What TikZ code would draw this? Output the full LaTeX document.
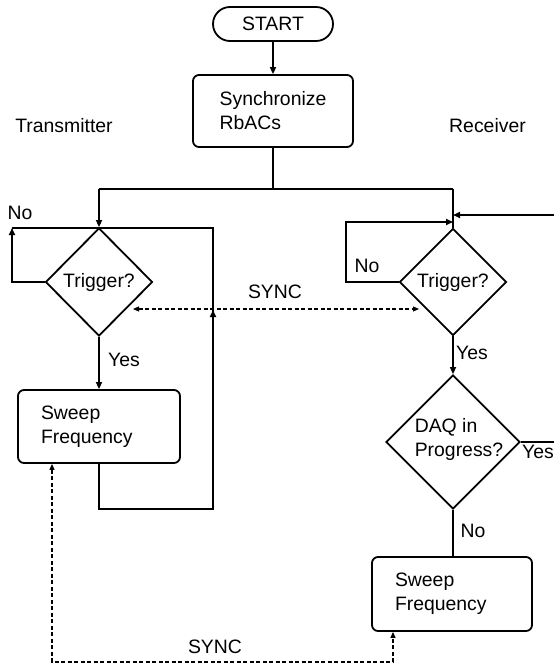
\documentclass[tikz,border=0pt]{standalone}
\usepackage{fontspec}
\setmainfont{Liberation Sans}
\usetikzlibrary{shapes.geometric,arrows.meta,calc}
\begin{document}
\begin{tikzpicture}[x=1pt,y=-1pt,
  every node/.style={font=\fontsize{19.4}{24}\selectfont, inner sep=0pt},
  ln/.style={line width=1.6pt},
  tip/.style={-{Triangle[length=7pt,width=6pt]}},
  sync/.style={line width=1.1pt, dash pattern=on 4pt off 2.5pt,
     {Triangle[length=6pt,width=5pt]}-{Triangle[length=6pt,width=5pt]}},
  term/.style={draw, line width=1.8pt, rectangle, rounded corners=17pt},
  box/.style={draw, line width=1.8pt, rectangle, rounded corners=6pt, align=left},
  dia/.style={draw, line width=1.8pt, diamond, inner sep=1pt}
]
\useasboundingbox (0,0) rectangle (554,664);

% nodes
\node[term, minimum width=120, minimum height=34] (start) at (273,24) {START};
\node[box, minimum width=160, minimum height=72] (sync) at (273,111) {Synchronize\\RbACs};
\node (tx) at (64,126) {Transmitter};
\node (rx) at (487.5,126) {Receiver};

\node[dia, minimum width=107, minimum height=108] (tl) at (99,282) {Trigger?};
\node[dia, minimum width=107, minimum height=107] (tr) at (453,282) {Trigger?};
\node[dia, minimum width=134, minimum height=134] (daq) at (453,442) {};
\node[align=left] (daqt) at (459,439) {DAQ in\\Progress?};

\node[box, minimum width=162, minimum height=73, text width=116] (swl) at (99,426.5) {Sweep\\Frequency};
\node[box, minimum width=160, minimum height=74, text width=114] (swr) at (452,594) {Sweep\\Frequency};

% coordinates
\coordinate (split) at (273,189);
\coordinate (sl) at (99,189);
\coordinate (sr) at (453,189);
\coordinate (nl1) at (12,282);
\coordinate (nl2) at (12,228);
\coordinate (rl1) at (213,228);
\coordinate (rl2) at (213,509);
\coordinate (rl3) at (99,509);
\coordinate (ma) at (213,310);
\coordinate (s1) at (133,309);
\coordinate (s2) at (419,309);
\coordinate (b1) at (52,662);
\coordinate (b2) at (393,662);
\coordinate (nr1) at (346,282);
\coordinate (nr2) at (346,222);
\coordinate (fr) at (570,215);
\coordinate (dy) at (570,442);

% connectors
\draw[ln,tip] (start) -- (sync);
\draw[ln] (sync) -- (split);
\draw[ln] (sl) -- (sr);
\draw[ln,tip] (sl) -- (tl.north);
\draw[ln] (sr) -- (tr.north);

% transmitter loops
\draw[ln,tip] (tl.west) -- (nl1) -- (nl2);
\draw[ln] (nl2) -- (rl1) -- (rl2) -- (rl3) -- (swl.south);
\draw[ln,tip] ($(ma)+(0,20)$) -- (ma);
\draw[ln,tip] (tl.south) -- (swl.north);
\node (nol) at (20,213) {No};
\node (yl) at (124,360) {Yes};

% sync lines
\draw[sync] (s1) -- (s2);
\node (sy1) at (275,292) {SYNC};
\draw[sync] (swl.south -| b1) -- (b1) -- (b2) -- (swr.south -| b2);
\node (sy2) at (215,647) {SYNC};

% receiver
\draw[ln,tip] (tr.west) -- (nr1) -- (nr2) -- (nr2 -| tr.north);
\node (nor) at (367,266) {No};
\draw[ln,tip] (fr) -- (fr -| tr.north);
\draw[ln,tip] (tr.south) -- (daq.north);
\node (yr) at (472,353) {Yes};
\draw[ln] (daq.east) -- (dy);
\node[anchor=west] (yd) at (522,452) {Yes};
\draw[ln] (daq.south) -- (daq.south |- swr.north);
\node (nd) at (473,531) {No};
\end{tikzpicture}
\end{document}
